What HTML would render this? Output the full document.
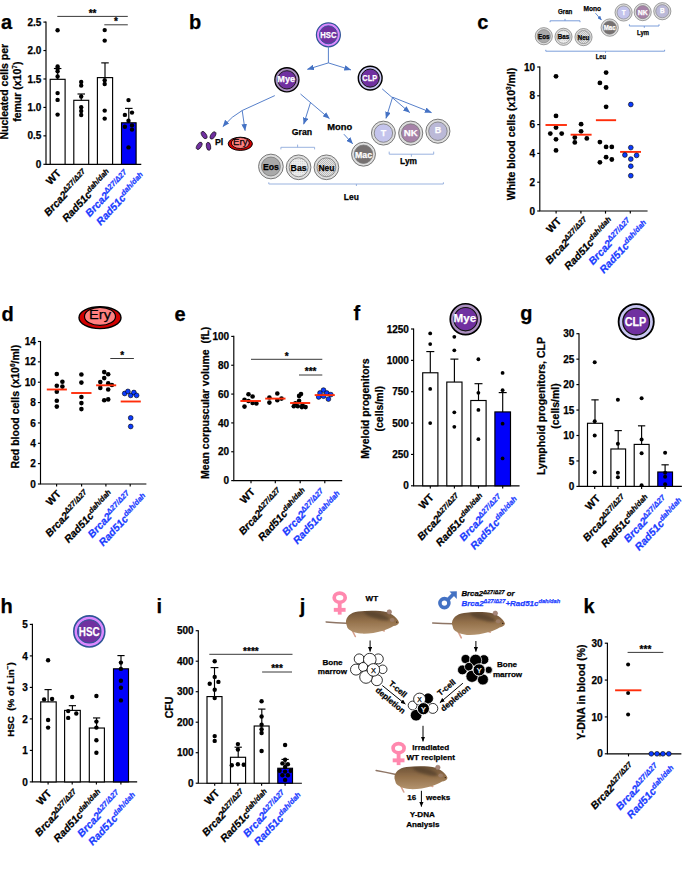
<!DOCTYPE html>
<html><head><meta charset="utf-8"><style>
html,body{margin:0;padding:0;background:#fff;}
svg{display:block;}
text{font-family:"Liberation Sans",sans-serif;stroke-width:0.25px;stroke-linejoin:round;stroke:#000;}
text[fill="#fff"]{stroke:#fff;}
text[fill="#1b3dff"]{stroke:#1b3dff;}
</style></head><body>
<svg width="685" height="870" viewBox="0 0 685 870">
<rect width="685" height="870" fill="#fff"/>
<text x="0.9" y="29" font-size="20" text-anchor="start" font-weight="bold" font-style="normal" fill="#000" >a</text>
<path d="M46,22.1 V164.3 H140.7" fill="none" stroke="#000" stroke-width="1.15" stroke-linecap="square"/>
<line x1="43.4" y1="164.3" x2="46" y2="164.3" stroke="#000" stroke-width="1.15" />
<text x="41.3" y="167.9" font-size="10" text-anchor="end" font-weight="bold" font-style="normal" fill="#000" >0</text>
<line x1="43.4" y1="135.86" x2="46" y2="135.86" stroke="#000" stroke-width="1.15" />
<text x="41.3" y="139.46" font-size="10" text-anchor="end" font-weight="bold" font-style="normal" fill="#000" >0.5</text>
<line x1="43.4" y1="107.42" x2="46" y2="107.42" stroke="#000" stroke-width="1.15" />
<text x="41.3" y="111.02" font-size="10" text-anchor="end" font-weight="bold" font-style="normal" fill="#000" >1.0</text>
<line x1="43.4" y1="78.98" x2="46" y2="78.98" stroke="#000" stroke-width="1.15" />
<text x="41.3" y="82.58" font-size="10" text-anchor="end" font-weight="bold" font-style="normal" fill="#000" >1.5</text>
<line x1="43.4" y1="50.54" x2="46" y2="50.54" stroke="#000" stroke-width="1.15" />
<text x="41.3" y="54.14" font-size="10" text-anchor="end" font-weight="bold" font-style="normal" fill="#000" >2.0</text>
<line x1="43.4" y1="22.1" x2="46" y2="22.1" stroke="#000" stroke-width="1.15" />
<text x="41.3" y="25.7" font-size="10" text-anchor="end" font-weight="bold" font-style="normal" fill="#000" >2.5</text>
<rect x="50.2" y="79.32" width="14.9" height="84.98" fill="#fff" stroke="#000" stroke-width="1.15"/>
<rect x="73.8" y="100.31" width="14.9" height="63.99" fill="#fff" stroke="#000" stroke-width="1.15"/>
<rect x="97.4" y="77.61" width="15.2" height="86.69" fill="#fff" stroke="#000" stroke-width="1.15"/>
<rect x="121.5" y="122.78" width="14.6" height="41.52" fill="#0000fa" stroke="#000" stroke-width="1.15"/>
<line x1="57.65" y1="68.51" x2="57.65" y2="79.32" stroke="#000" stroke-width="1.15" />
<line x1="53.9" y1="68.51" x2="61.4" y2="68.51" stroke="#000" stroke-width="1.15" />
<line x1="81.25" y1="94" x2="81.25" y2="100.31" stroke="#000" stroke-width="1.15" />
<line x1="77.5" y1="94" x2="85" y2="94" stroke="#000" stroke-width="1.15" />
<line x1="105" y1="62.88" x2="105" y2="77.61" stroke="#000" stroke-width="1.15" />
<line x1="101.25" y1="62.88" x2="108.75" y2="62.88" stroke="#000" stroke-width="1.15" />
<line x1="128.8" y1="108.39" x2="128.8" y2="122.78" stroke="#000" stroke-width="1.15" />
<line x1="125.05" y1="108.39" x2="132.55" y2="108.39" stroke="#000" stroke-width="1.15" />
<circle cx="57.6" cy="30.3" r="2.2" fill="#000"/>
<circle cx="57.6" cy="66.5" r="2.2" fill="#000"/>
<circle cx="57.6" cy="68.5" r="2.2" fill="#000"/>
<circle cx="57.6" cy="71.3" r="2.2" fill="#000"/>
<circle cx="57.6" cy="76.5" r="2.2" fill="#000"/>
<circle cx="57.6" cy="93.1" r="2.2" fill="#000"/>
<circle cx="57.6" cy="99.9" r="2.2" fill="#000"/>
<circle cx="57.6" cy="114.6" r="2.2" fill="#000"/>
<circle cx="81.2" cy="82" r="2.2" fill="#000"/>
<circle cx="81.2" cy="85.6" r="2.2" fill="#000"/>
<circle cx="81.2" cy="96.5" r="2.2" fill="#000"/>
<circle cx="81.2" cy="107.3" r="2.2" fill="#000"/>
<circle cx="81.2" cy="111" r="2.2" fill="#000"/>
<circle cx="81.2" cy="115" r="2.2" fill="#000"/>
<circle cx="104.7" cy="30.1" r="2.2" fill="#000"/>
<circle cx="104.7" cy="40.6" r="2.2" fill="#000"/>
<circle cx="104.7" cy="80.2" r="2.2" fill="#000"/>
<circle cx="104.7" cy="84" r="2.2" fill="#000"/>
<circle cx="104.7" cy="110.6" r="2.2" fill="#000"/>
<circle cx="104.7" cy="118.6" r="2.2" fill="#000"/>
<circle cx="128.5" cy="100.1" r="2.2" fill="#000"/>
<circle cx="124.9" cy="114.9" r="2.2" fill="#000"/>
<circle cx="132" cy="112.6" r="2.2" fill="#000"/>
<circle cx="128.5" cy="120.7" r="2.2" fill="#000"/>
<circle cx="124.9" cy="126.8" r="2.2" fill="#000"/>
<circle cx="132" cy="125.4" r="2.2" fill="#000"/>
<circle cx="132" cy="129.6" r="2.2" fill="#000"/>
<circle cx="128.5" cy="147.4" r="2.2" fill="#000"/>
<line x1="57.3" y1="16.4" x2="127.8" y2="16.4" stroke="#222" stroke-width="0.9" />
<text x="92.55" y="16.7" font-size="10" text-anchor="middle" font-weight="bold" font-style="normal" fill="#000" >**</text>
<line x1="104.3" y1="24.8" x2="127.8" y2="24.8" stroke="#222" stroke-width="0.9" />
<text x="116.05" y="25.1" font-size="10" text-anchor="middle" font-weight="bold" font-style="normal" fill="#000" >*</text>
<g transform="translate(61.65,173.5) rotate(-47) scale(1,1.0)"><text x="0" y="0" font-size="10.5" font-weight="bold" font-style="normal" text-anchor="end" fill="#000">WT</text></g>
<g transform="translate(88.25,174) rotate(-47) scale(1,1.0)"><text x="0" y="0" font-size="10.5" font-weight="bold" font-style="italic" text-anchor="end" fill="#000">Brca2<tspan font-size="7.6" font-weight="bold" font-style="italic" dy="-3.5">Δ27/Δ27</tspan></text></g>
<g transform="translate(112,174) rotate(-47) scale(1,1.0)"><text x="0" y="0" font-size="10.5" font-weight="bold" font-style="italic" text-anchor="end" fill="#000">Rad51c<tspan font-size="7.6" font-weight="bold" font-style="italic" dy="-3.5">dah/dah</tspan></text></g>
<g transform="translate(135.8,174) rotate(-47) scale(1,1.0)"><text x="-63.29" y="-3.98" font-size="10.5" font-weight="bold" font-style="italic" text-anchor="start" fill="#1b3dff">Brca2<tspan font-size="7.6" font-weight="bold" font-style="italic" dy="-3.5">Δ27/Δ27</tspan></text></g>
<g transform="translate(135.8,174) rotate(-47) scale(1,1.0)"><text x="-61.89" y="9.72" font-size="10.5" font-weight="bold" font-style="italic" text-anchor="start" fill="#1b3dff">Rad51c<tspan font-size="7.6" font-weight="bold" font-style="italic" dy="-3.5">dah/dah</tspan></text></g>
<text transform="translate(8,91.7) rotate(-90)" x="0" y="0" font-size="10.5" font-weight="bold" text-anchor="middle">Nucleated cells per</text>
<text transform="translate(20.6,91.7) rotate(-90)" x="0" y="0" font-size="10.5" font-weight="bold" text-anchor="middle">femur (x10<tspan font-size="6.5" dy="-4">7</tspan><tspan dy="4">)</tspan></text>
<path d="M539.8,67 V211 H647" fill="none" stroke="#000" stroke-width="1.15" stroke-linecap="square"/>
<line x1="537.2" y1="211" x2="539.8" y2="211" stroke="#000" stroke-width="1.15" />
<text x="535.1" y="214.6" font-size="10" text-anchor="end" font-weight="bold" font-style="normal" fill="#000" >0</text>
<line x1="537.2" y1="182.2" x2="539.8" y2="182.2" stroke="#000" stroke-width="1.15" />
<text x="535.1" y="185.8" font-size="10" text-anchor="end" font-weight="bold" font-style="normal" fill="#000" >2</text>
<line x1="537.2" y1="153.4" x2="539.8" y2="153.4" stroke="#000" stroke-width="1.15" />
<text x="535.1" y="157" font-size="10" text-anchor="end" font-weight="bold" font-style="normal" fill="#000" >4</text>
<line x1="537.2" y1="124.6" x2="539.8" y2="124.6" stroke="#000" stroke-width="1.15" />
<text x="535.1" y="128.2" font-size="10" text-anchor="end" font-weight="bold" font-style="normal" fill="#000" >6</text>
<line x1="537.2" y1="95.8" x2="539.8" y2="95.8" stroke="#000" stroke-width="1.15" />
<text x="535.1" y="99.4" font-size="10" text-anchor="end" font-weight="bold" font-style="normal" fill="#000" >8</text>
<line x1="537.2" y1="67" x2="539.8" y2="67" stroke="#000" stroke-width="1.15" />
<text x="535.1" y="70.6" font-size="10" text-anchor="end" font-weight="bold" font-style="normal" fill="#000" >10</text>
<line x1="556.1" y1="211" x2="556.1" y2="213.6" stroke="#000" stroke-width="1.15" />
<line x1="580.9" y1="211" x2="580.9" y2="213.6" stroke="#000" stroke-width="1.15" />
<line x1="605.5" y1="211" x2="605.5" y2="213.6" stroke="#000" stroke-width="1.15" />
<line x1="630.3" y1="211" x2="630.3" y2="213.6" stroke="#000" stroke-width="1.15" />
<circle cx="556" cy="76.3" r="2.4" fill="#000"/>
<circle cx="556" cy="115.9" r="2.4" fill="#000"/>
<circle cx="556" cy="127.6" r="2.4" fill="#000"/>
<circle cx="550.3" cy="133.6" r="2.4" fill="#000"/>
<circle cx="561.7" cy="133.6" r="2.4" fill="#000"/>
<circle cx="556" cy="139.3" r="2.4" fill="#000"/>
<circle cx="556" cy="150.4" r="2.4" fill="#000"/>
<line x1="545.5" y1="125" x2="566.9" y2="125" stroke="#ff2d0a" stroke-width="1.9" />
<circle cx="581.1" cy="124.2" r="2.4" fill="#000"/>
<circle cx="581.1" cy="131.3" r="2.4" fill="#000"/>
<circle cx="574.8" cy="137.5" r="2.4" fill="#000"/>
<circle cx="586.8" cy="138.4" r="2.4" fill="#000"/>
<circle cx="574.8" cy="142.4" r="2.4" fill="#000"/>
<line x1="570.6" y1="134.7" x2="591.6" y2="134.7" stroke="#ff2d0a" stroke-width="1.9" />
<circle cx="606.1" cy="72.6" r="2.4" fill="#000"/>
<circle cx="599.9" cy="82.9" r="2.4" fill="#000"/>
<circle cx="606.1" cy="87.5" r="2.4" fill="#000"/>
<circle cx="606.1" cy="106.8" r="2.4" fill="#000"/>
<circle cx="599.9" cy="142.1" r="2.4" fill="#000"/>
<circle cx="606.1" cy="146.9" r="2.4" fill="#000"/>
<circle cx="611.8" cy="146.9" r="2.4" fill="#000"/>
<circle cx="599.9" cy="162.3" r="2.4" fill="#000"/>
<circle cx="606.1" cy="157.2" r="2.4" fill="#000"/>
<circle cx="611.8" cy="159.5" r="2.4" fill="#000"/>
<line x1="595.9" y1="120.2" x2="616.1" y2="120.2" stroke="#ff2d0a" stroke-width="1.9" />
<line x1="620.1" y1="151.9" x2="641" y2="151.9" stroke="#ff2d0a" stroke-width="1.9" />
<circle cx="630.8" cy="104.5" r="2.4" fill="#0b3bff" stroke="#000" stroke-width="0.6"/>
<circle cx="630.8" cy="147.6" r="2.4" fill="#0b3bff" stroke="#000" stroke-width="0.6"/>
<circle cx="624.9" cy="155" r="2.4" fill="#0b3bff" stroke="#000" stroke-width="0.6"/>
<circle cx="636.6" cy="155.4" r="2.4" fill="#0b3bff" stroke="#000" stroke-width="0.6"/>
<circle cx="630.8" cy="159.1" r="2.4" fill="#0b3bff" stroke="#000" stroke-width="0.6"/>
<circle cx="630.8" cy="166.2" r="2.4" fill="#0b3bff" stroke="#000" stroke-width="0.6"/>
<circle cx="630.8" cy="175.7" r="2.4" fill="#0b3bff" stroke="#000" stroke-width="0.6"/>
<g transform="translate(561.8,221.5) rotate(-47) scale(1,1.0)"><text x="0" y="0" font-size="10.5" font-weight="bold" font-style="normal" text-anchor="end" fill="#000">WT</text></g>
<g transform="translate(589.6,222) rotate(-47) scale(1,1.0)"><text x="0" y="0" font-size="10.5" font-weight="bold" font-style="italic" text-anchor="end" fill="#000">Brca2<tspan font-size="7.6" font-weight="bold" font-style="italic" dy="-3.5">Δ27/Δ27</tspan></text></g>
<g transform="translate(614.2,222) rotate(-47) scale(1,1.0)"><text x="0" y="0" font-size="10.5" font-weight="bold" font-style="italic" text-anchor="end" fill="#000">Rad51c<tspan font-size="7.6" font-weight="bold" font-style="italic" dy="-3.5">dah/dah</tspan></text></g>
<g transform="translate(639,222) rotate(-47) scale(1,1.0)"><text x="-63.29" y="-3.98" font-size="10.5" font-weight="bold" font-style="italic" text-anchor="start" fill="#1b3dff">Brca2<tspan font-size="7.6" font-weight="bold" font-style="italic" dy="-3.5">Δ27/Δ27</tspan></text></g>
<g transform="translate(639,222) rotate(-47) scale(1,1.0)"><text x="-61.89" y="9.72" font-size="10.5" font-weight="bold" font-style="italic" text-anchor="start" fill="#1b3dff">Rad51c<tspan font-size="7.6" font-weight="bold" font-style="italic" dy="-3.5">dah/dah</tspan></text></g>
<text transform="translate(515.1,134) rotate(-90)" x="0" y="0" font-size="10.5" font-weight="bold" text-anchor="middle">White blood cells (x10<tspan font-size="6.5" dy="-4">3</tspan><tspan dy="4">/ml)</tspan></text>
<text x="1.4" y="321" font-size="20" text-anchor="start" font-weight="bold" font-style="normal" fill="#000" >d</text>
<path d="M40.5,341.5 V484 H145.8" fill="none" stroke="#000" stroke-width="1.15" stroke-linecap="square"/>
<line x1="37.9" y1="484" x2="40.5" y2="484" stroke="#000" stroke-width="1.15" />
<text x="35.8" y="487.6" font-size="10" text-anchor="end" font-weight="bold" font-style="normal" fill="#000" >0</text>
<line x1="37.9" y1="463.64" x2="40.5" y2="463.64" stroke="#000" stroke-width="1.15" />
<text x="35.8" y="467.24" font-size="10" text-anchor="end" font-weight="bold" font-style="normal" fill="#000" >2</text>
<line x1="37.9" y1="443.29" x2="40.5" y2="443.29" stroke="#000" stroke-width="1.15" />
<text x="35.8" y="446.89" font-size="10" text-anchor="end" font-weight="bold" font-style="normal" fill="#000" >4</text>
<line x1="37.9" y1="422.93" x2="40.5" y2="422.93" stroke="#000" stroke-width="1.15" />
<text x="35.8" y="426.53" font-size="10" text-anchor="end" font-weight="bold" font-style="normal" fill="#000" >6</text>
<line x1="37.9" y1="402.57" x2="40.5" y2="402.57" stroke="#000" stroke-width="1.15" />
<text x="35.8" y="406.17" font-size="10" text-anchor="end" font-weight="bold" font-style="normal" fill="#000" >8</text>
<line x1="37.9" y1="382.21" x2="40.5" y2="382.21" stroke="#000" stroke-width="1.15" />
<text x="35.8" y="385.81" font-size="10" text-anchor="end" font-weight="bold" font-style="normal" fill="#000" >10</text>
<line x1="37.9" y1="361.86" x2="40.5" y2="361.86" stroke="#000" stroke-width="1.15" />
<text x="35.8" y="365.46" font-size="10" text-anchor="end" font-weight="bold" font-style="normal" fill="#000" >12</text>
<line x1="37.9" y1="341.5" x2="40.5" y2="341.5" stroke="#000" stroke-width="1.15" />
<text x="35.8" y="345.1" font-size="10" text-anchor="end" font-weight="bold" font-style="normal" fill="#000" >14</text>
<line x1="56.6" y1="484" x2="56.6" y2="486.6" stroke="#000" stroke-width="1.15" />
<line x1="81.6" y1="484" x2="81.6" y2="486.6" stroke="#000" stroke-width="1.15" />
<line x1="105.9" y1="484" x2="105.9" y2="486.6" stroke="#000" stroke-width="1.15" />
<line x1="130.2" y1="484" x2="130.2" y2="486.6" stroke="#000" stroke-width="1.15" />
<circle cx="56.8" cy="374" r="2.3" fill="#000"/>
<circle cx="62.4" cy="381.8" r="2.3" fill="#000"/>
<circle cx="56.8" cy="385.8" r="2.3" fill="#000"/>
<circle cx="62.4" cy="386.6" r="2.3" fill="#000"/>
<circle cx="56.8" cy="391.7" r="2.3" fill="#000"/>
<circle cx="56.8" cy="400.7" r="2.3" fill="#000"/>
<circle cx="56.8" cy="406.6" r="2.3" fill="#000"/>
<line x1="46.8" y1="389.5" x2="66.9" y2="389.5" stroke="#ff2d0a" stroke-width="1.9" />
<circle cx="81.4" cy="374.5" r="2.3" fill="#000"/>
<circle cx="81.4" cy="382.6" r="2.3" fill="#000"/>
<circle cx="81.4" cy="397" r="2.3" fill="#000"/>
<circle cx="81.4" cy="403.1" r="2.3" fill="#000"/>
<circle cx="81.4" cy="409.1" r="2.3" fill="#000"/>
<line x1="71.2" y1="393" x2="91.5" y2="393" stroke="#ff2d0a" stroke-width="1.9" />
<circle cx="104.2" cy="372.1" r="2.3" fill="#000"/>
<circle cx="108.2" cy="374.2" r="2.3" fill="#000"/>
<circle cx="104.2" cy="378.1" r="2.3" fill="#000"/>
<circle cx="100.3" cy="382.1" r="2.3" fill="#000"/>
<circle cx="108.2" cy="383.4" r="2.3" fill="#000"/>
<circle cx="111.9" cy="385" r="2.3" fill="#000"/>
<circle cx="100.3" cy="387.9" r="2.3" fill="#000"/>
<circle cx="108.2" cy="389.5" r="2.3" fill="#000"/>
<circle cx="104.2" cy="400.2" r="2.3" fill="#000"/>
<circle cx="108.2" cy="399.4" r="2.3" fill="#000"/>
<line x1="96.1" y1="385.3" x2="116.2" y2="385.3" stroke="#ff2d0a" stroke-width="1.9" />
<circle cx="124.7" cy="393.5" r="2.4" fill="#0b3bff" stroke="#000" stroke-width="0.6"/>
<circle cx="127.9" cy="391.4" r="2.4" fill="#0b3bff" stroke="#000" stroke-width="0.6"/>
<circle cx="130.7" cy="395.4" r="2.4" fill="#0b3bff" stroke="#000" stroke-width="0.6"/>
<circle cx="133.9" cy="392.5" r="2.4" fill="#0b3bff" stroke="#000" stroke-width="0.6"/>
<circle cx="136.6" cy="395.4" r="2.4" fill="#0b3bff" stroke="#000" stroke-width="0.6"/>
<circle cx="130.7" cy="417.9" r="2.4" fill="#0b3bff" stroke="#000" stroke-width="0.6"/>
<circle cx="130.7" cy="426.5" r="2.4" fill="#0b3bff" stroke="#000" stroke-width="0.6"/>
<line x1="120.7" y1="401.5" x2="140.8" y2="401.5" stroke="#ff2d0a" stroke-width="1.9" />
<line x1="110.3" y1="358.5" x2="133.9" y2="358.5" stroke="#222" stroke-width="0.9" />
<text x="122.1" y="358.8" font-size="10" text-anchor="middle" font-weight="bold" font-style="normal" fill="#000" >*</text>
<g transform="translate(61.7,494.4) rotate(-47) scale(1,1.0)"><text x="0" y="0" font-size="10.5" font-weight="bold" font-style="normal" text-anchor="end" fill="#000">WT</text></g>
<g transform="translate(89.7,494.9) rotate(-47) scale(1,1.0)"><text x="0" y="0" font-size="10.5" font-weight="bold" font-style="italic" text-anchor="end" fill="#000">Brca2<tspan font-size="7.6" font-weight="bold" font-style="italic" dy="-3.5">Δ27/Δ27</tspan></text></g>
<g transform="translate(114,494.9) rotate(-47) scale(1,1.0)"><text x="0" y="0" font-size="10.5" font-weight="bold" font-style="italic" text-anchor="end" fill="#000">Rad51c<tspan font-size="7.6" font-weight="bold" font-style="italic" dy="-3.5">dah/dah</tspan></text></g>
<g transform="translate(138.3,494.9) rotate(-47) scale(1,1.0)"><text x="-63.29" y="-3.98" font-size="10.5" font-weight="bold" font-style="italic" text-anchor="start" fill="#1b3dff">Brca2<tspan font-size="7.6" font-weight="bold" font-style="italic" dy="-3.5">Δ27/Δ27</tspan></text></g>
<g transform="translate(138.3,494.9) rotate(-47) scale(1,1.0)"><text x="-61.89" y="9.72" font-size="10.5" font-weight="bold" font-style="italic" text-anchor="start" fill="#1b3dff">Rad51c<tspan font-size="7.6" font-weight="bold" font-style="italic" dy="-3.5">dah/dah</tspan></text></g>
<text transform="translate(18.6,406.7) rotate(-90)" x="0" y="0" font-size="10.5" font-weight="bold" text-anchor="middle">Red blood cells (x10<tspan font-size="6.5" dy="-4">6</tspan><tspan dy="4">/ml)</tspan></text>
<text x="174.5" y="320.6" font-size="20" text-anchor="start" font-weight="bold" font-style="normal" fill="#000" >e</text>
<path d="M233.8,336.4 V480.6 H341.6" fill="none" stroke="#000" stroke-width="1.15" stroke-linecap="square"/>
<line x1="231.2" y1="480.6" x2="233.8" y2="480.6" stroke="#000" stroke-width="1.15" />
<text x="229.1" y="484.2" font-size="10" text-anchor="end" font-weight="bold" font-style="normal" fill="#000" >0</text>
<line x1="231.2" y1="451.76" x2="233.8" y2="451.76" stroke="#000" stroke-width="1.15" />
<text x="229.1" y="455.36" font-size="10" text-anchor="end" font-weight="bold" font-style="normal" fill="#000" >20</text>
<line x1="231.2" y1="422.92" x2="233.8" y2="422.92" stroke="#000" stroke-width="1.15" />
<text x="229.1" y="426.52" font-size="10" text-anchor="end" font-weight="bold" font-style="normal" fill="#000" >40</text>
<line x1="231.2" y1="394.08" x2="233.8" y2="394.08" stroke="#000" stroke-width="1.15" />
<text x="229.1" y="397.68" font-size="10" text-anchor="end" font-weight="bold" font-style="normal" fill="#000" >60</text>
<line x1="231.2" y1="365.24" x2="233.8" y2="365.24" stroke="#000" stroke-width="1.15" />
<text x="229.1" y="368.84" font-size="10" text-anchor="end" font-weight="bold" font-style="normal" fill="#000" >80</text>
<line x1="231.2" y1="336.4" x2="233.8" y2="336.4" stroke="#000" stroke-width="1.15" />
<text x="229.1" y="340" font-size="10" text-anchor="end" font-weight="bold" font-style="normal" fill="#000" >100</text>
<line x1="251" y1="480.6" x2="251" y2="483.2" stroke="#000" stroke-width="1.15" />
<line x1="275.3" y1="480.6" x2="275.3" y2="483.2" stroke="#000" stroke-width="1.15" />
<line x1="300.2" y1="480.6" x2="300.2" y2="483.2" stroke="#000" stroke-width="1.15" />
<line x1="324.8" y1="480.6" x2="324.8" y2="483.2" stroke="#000" stroke-width="1.15" />
<circle cx="248.5" cy="394.3" r="2.3" fill="#000"/>
<circle cx="252.6" cy="396.5" r="2.3" fill="#000"/>
<circle cx="244.5" cy="399.7" r="2.3" fill="#000"/>
<circle cx="248.5" cy="401" r="2.3" fill="#000"/>
<circle cx="252.6" cy="403" r="2.3" fill="#000"/>
<circle cx="256.4" cy="403.4" r="2.3" fill="#000"/>
<circle cx="244.5" cy="406.6" r="2.3" fill="#000"/>
<line x1="240.4" y1="401" x2="260.9" y2="401" stroke="#ff2d0a" stroke-width="1.9" />
<circle cx="269.4" cy="397.5" r="2.3" fill="#000"/>
<circle cx="277.3" cy="393.5" r="2.3" fill="#000"/>
<circle cx="277.3" cy="400.2" r="2.3" fill="#000"/>
<circle cx="281.5" cy="398.6" r="2.3" fill="#000"/>
<circle cx="269.4" cy="402.6" r="2.3" fill="#000"/>
<line x1="265.2" y1="398.6" x2="285.5" y2="398.6" stroke="#ff2d0a" stroke-width="1.9" />
<circle cx="301" cy="394.1" r="2.3" fill="#000"/>
<circle cx="299.1" cy="395.9" r="2.3" fill="#000"/>
<circle cx="299.1" cy="400.7" r="2.3" fill="#000"/>
<circle cx="295.4" cy="403.4" r="2.3" fill="#000"/>
<circle cx="293.8" cy="406.3" r="2.3" fill="#000"/>
<circle cx="297.8" cy="406.3" r="2.3" fill="#000"/>
<circle cx="301.9" cy="407.1" r="2.3" fill="#000"/>
<circle cx="305.6" cy="407.1" r="2.3" fill="#000"/>
<circle cx="302.5" cy="405" r="2.3" fill="#000"/>
<line x1="290.1" y1="403" x2="310.2" y2="403" stroke="#ff2d0a" stroke-width="1.9" />
<circle cx="323.5" cy="390.1" r="2.4" fill="#0b3bff" stroke="#000" stroke-width="0.6"/>
<circle cx="320" cy="393" r="2.4" fill="#0b3bff" stroke="#000" stroke-width="0.6"/>
<circle cx="326.8" cy="393" r="2.4" fill="#0b3bff" stroke="#000" stroke-width="0.6"/>
<circle cx="330.8" cy="394.6" r="2.4" fill="#0b3bff" stroke="#000" stroke-width="0.6"/>
<circle cx="318.7" cy="397" r="2.4" fill="#0b3bff" stroke="#000" stroke-width="0.6"/>
<circle cx="323.5" cy="396.2" r="2.4" fill="#0b3bff" stroke="#000" stroke-width="0.6"/>
<circle cx="328.4" cy="399.1" r="2.4" fill="#0b3bff" stroke="#000" stroke-width="0.6"/>
<line x1="314.7" y1="395.1" x2="334.8" y2="395.1" stroke="#ff2d0a" stroke-width="1.9" />
<line x1="251" y1="359.3" x2="322.3" y2="359.3" stroke="#222" stroke-width="0.9" />
<text x="286.65" y="359.6" font-size="10" text-anchor="middle" font-weight="bold" font-style="normal" fill="#000" >*</text>
<line x1="299" y1="375" x2="322.3" y2="375" stroke="#222" stroke-width="0.9" />
<text x="310.65" y="375.3" font-size="10" text-anchor="middle" font-weight="bold" font-style="normal" fill="#000" >***</text>
<g transform="translate(255.7,492.3) rotate(-47) scale(1,1.0)"><text x="0" y="0" font-size="10.5" font-weight="bold" font-style="normal" text-anchor="end" fill="#000">WT</text></g>
<g transform="translate(283,492.8) rotate(-47) scale(1,1.0)"><text x="0" y="0" font-size="10.5" font-weight="bold" font-style="italic" text-anchor="end" fill="#000">Brca2<tspan font-size="7.6" font-weight="bold" font-style="italic" dy="-3.5">Δ27/Δ27</tspan></text></g>
<g transform="translate(307.9,492.8) rotate(-47) scale(1,1.0)"><text x="0" y="0" font-size="10.5" font-weight="bold" font-style="italic" text-anchor="end" fill="#000">Rad51c<tspan font-size="7.6" font-weight="bold" font-style="italic" dy="-3.5">dah/dah</tspan></text></g>
<g transform="translate(332.5,492.8) rotate(-47) scale(1,1.0)"><text x="-63.29" y="-3.98" font-size="10.5" font-weight="bold" font-style="italic" text-anchor="start" fill="#1b3dff">Brca2<tspan font-size="7.6" font-weight="bold" font-style="italic" dy="-3.5">Δ27/Δ27</tspan></text></g>
<g transform="translate(332.5,492.8) rotate(-47) scale(1,1.0)"><text x="-61.89" y="9.72" font-size="10.5" font-weight="bold" font-style="italic" text-anchor="start" fill="#1b3dff">Rad51c<tspan font-size="7.6" font-weight="bold" font-style="italic" dy="-3.5">dah/dah</tspan></text></g>
<text transform="translate(208.5,402.8) rotate(-90)" x="0" y="0" font-size="10.5" font-weight="bold" text-anchor="middle">Mean corpuscular volume&#160;&#160;(fL)</text>
<text x="353.5" y="320.4" font-size="20" text-anchor="start" font-weight="bold" font-style="normal" fill="#000" >f</text>
<path d="M413.6,329 V485.8 H519" fill="none" stroke="#000" stroke-width="1.15" stroke-linecap="square"/>
<line x1="411" y1="485.8" x2="413.6" y2="485.8" stroke="#000" stroke-width="1.15" />
<text x="408.9" y="489.4" font-size="10" text-anchor="end" font-weight="bold" font-style="normal" fill="#000" >0</text>
<line x1="411" y1="454.44" x2="413.6" y2="454.44" stroke="#000" stroke-width="1.15" />
<text x="408.9" y="458.04" font-size="10" text-anchor="end" font-weight="bold" font-style="normal" fill="#000" >250</text>
<line x1="411" y1="423.08" x2="413.6" y2="423.08" stroke="#000" stroke-width="1.15" />
<text x="408.9" y="426.68" font-size="10" text-anchor="end" font-weight="bold" font-style="normal" fill="#000" >500</text>
<line x1="411" y1="391.72" x2="413.6" y2="391.72" stroke="#000" stroke-width="1.15" />
<text x="408.9" y="395.32" font-size="10" text-anchor="end" font-weight="bold" font-style="normal" fill="#000" >750</text>
<line x1="411" y1="360.36" x2="413.6" y2="360.36" stroke="#000" stroke-width="1.15" />
<text x="408.9" y="363.96" font-size="10" text-anchor="end" font-weight="bold" font-style="normal" fill="#000" >1000</text>
<line x1="411" y1="329" x2="413.6" y2="329" stroke="#000" stroke-width="1.15" />
<text x="408.9" y="332.6" font-size="10" text-anchor="end" font-weight="bold" font-style="normal" fill="#000" >1250</text>
<line x1="430.3" y1="485.8" x2="430.3" y2="488.4" stroke="#000" stroke-width="1.15" />
<line x1="454.4" y1="485.8" x2="454.4" y2="488.4" stroke="#000" stroke-width="1.15" />
<line x1="478.5" y1="485.8" x2="478.5" y2="488.4" stroke="#000" stroke-width="1.15" />
<line x1="502.7" y1="485.8" x2="502.7" y2="488.4" stroke="#000" stroke-width="1.15" />
<rect x="422.7" y="372.78" width="15.2" height="113.02" fill="#fff" stroke="#000" stroke-width="1.15"/>
<rect x="446.8" y="382.06" width="15.2" height="103.74" fill="#fff" stroke="#000" stroke-width="1.15"/>
<rect x="470.8" y="400.5" width="15.3" height="85.3" fill="#fff" stroke="#000" stroke-width="1.15"/>
<rect x="494.9" y="411.92" width="15.6" height="73.88" fill="#0000fa" stroke="#000" stroke-width="1.15"/>
<line x1="430.3" y1="351.58" x2="430.3" y2="372.78" stroke="#000" stroke-width="1.15" />
<line x1="426.3" y1="351.58" x2="434.3" y2="351.58" stroke="#000" stroke-width="1.15" />
<line x1="454.4" y1="359.11" x2="454.4" y2="382.06" stroke="#000" stroke-width="1.15" />
<line x1="450.4" y1="359.11" x2="458.4" y2="359.11" stroke="#000" stroke-width="1.15" />
<line x1="478.5" y1="383.69" x2="478.5" y2="400.5" stroke="#000" stroke-width="1.15" />
<line x1="474.5" y1="383.69" x2="482.5" y2="383.69" stroke="#000" stroke-width="1.15" />
<line x1="502.7" y1="392.6" x2="502.7" y2="411.92" stroke="#000" stroke-width="1.15" />
<line x1="498.7" y1="392.6" x2="506.7" y2="392.6" stroke="#000" stroke-width="1.15" />
<circle cx="430.2" cy="333.39" r="1.9" fill="#000"/>
<circle cx="430.2" cy="344.05" r="1.9" fill="#000"/>
<circle cx="430.2" cy="388.96" r="1.9" fill="#000"/>
<circle cx="430.2" cy="423.08" r="1.9" fill="#000"/>
<circle cx="454.3" cy="336.78" r="1.9" fill="#000"/>
<circle cx="454.3" cy="350.32" r="1.9" fill="#000"/>
<circle cx="454.3" cy="412.29" r="1.9" fill="#000"/>
<circle cx="454.3" cy="426.84" r="1.9" fill="#000"/>
<circle cx="478.4" cy="359.23" r="1.9" fill="#000"/>
<circle cx="478.4" cy="392.85" r="1.9" fill="#000"/>
<circle cx="478.4" cy="409.91" r="1.9" fill="#000"/>
<circle cx="478.4" cy="439.14" r="1.9" fill="#000"/>
<circle cx="502.6" cy="372.9" r="1.9" fill="#000"/>
<circle cx="502.6" cy="390.21" r="1.9" fill="#000"/>
<circle cx="502.6" cy="423.71" r="1.9" fill="#000"/>
<circle cx="502.6" cy="458.45" r="1.9" fill="#000"/>
<g transform="translate(434.4,497.8) rotate(-47) scale(1,1.0)"><text x="0" y="0" font-size="10.5" font-weight="bold" font-style="normal" text-anchor="end" fill="#000">WT</text></g>
<g transform="translate(461.5,498.3) rotate(-47) scale(1,1.0)"><text x="0" y="0" font-size="10.5" font-weight="bold" font-style="italic" text-anchor="end" fill="#000">Brca2<tspan font-size="7.6" font-weight="bold" font-style="italic" dy="-3.5">Δ27/Δ27</tspan></text></g>
<g transform="translate(485.6,498.3) rotate(-47) scale(1,1.0)"><text x="0" y="0" font-size="10.5" font-weight="bold" font-style="italic" text-anchor="end" fill="#000">Rad51c<tspan font-size="7.6" font-weight="bold" font-style="italic" dy="-3.5">dah/dah</tspan></text></g>
<g transform="translate(509.8,498.3) rotate(-47) scale(1,1.0)"><text x="-63.29" y="-3.98" font-size="10.5" font-weight="bold" font-style="italic" text-anchor="start" fill="#1b3dff">Brca2<tspan font-size="7.6" font-weight="bold" font-style="italic" dy="-3.5">Δ27/Δ27</tspan></text></g>
<g transform="translate(509.8,498.3) rotate(-47) scale(1,1.0)"><text x="-61.89" y="9.72" font-size="10.5" font-weight="bold" font-style="italic" text-anchor="start" fill="#1b3dff">Rad51c<tspan font-size="7.6" font-weight="bold" font-style="italic" dy="-3.5">dah/dah</tspan></text></g>
<text transform="translate(368.7,408.7) rotate(-90)" x="0" y="0" font-size="10.5" font-weight="bold" text-anchor="middle">Myeloid progenitors</text>
<text transform="translate(383.2,408.7) rotate(-90)" x="0" y="0" font-size="10.5" font-weight="bold" text-anchor="middle">(cells/ml)</text>
<text x="520.2" y="320.2" font-size="20" text-anchor="start" font-weight="bold" font-style="normal" fill="#000" >g</text>
<path d="M579,333.7 V486.4 H681.3" fill="none" stroke="#000" stroke-width="1.15" stroke-linecap="square"/>
<line x1="576.4" y1="486.4" x2="579" y2="486.4" stroke="#000" stroke-width="1.15" />
<text x="574.3" y="490" font-size="10" text-anchor="end" font-weight="bold" font-style="normal" fill="#000" >0</text>
<line x1="576.4" y1="460.95" x2="579" y2="460.95" stroke="#000" stroke-width="1.15" />
<text x="574.3" y="464.55" font-size="10" text-anchor="end" font-weight="bold" font-style="normal" fill="#000" >5</text>
<line x1="576.4" y1="435.5" x2="579" y2="435.5" stroke="#000" stroke-width="1.15" />
<text x="574.3" y="439.1" font-size="10" text-anchor="end" font-weight="bold" font-style="normal" fill="#000" >10</text>
<line x1="576.4" y1="410.05" x2="579" y2="410.05" stroke="#000" stroke-width="1.15" />
<text x="574.3" y="413.65" font-size="10" text-anchor="end" font-weight="bold" font-style="normal" fill="#000" >15</text>
<line x1="576.4" y1="384.6" x2="579" y2="384.6" stroke="#000" stroke-width="1.15" />
<text x="574.3" y="388.2" font-size="10" text-anchor="end" font-weight="bold" font-style="normal" fill="#000" >20</text>
<line x1="576.4" y1="359.15" x2="579" y2="359.15" stroke="#000" stroke-width="1.15" />
<text x="574.3" y="362.75" font-size="10" text-anchor="end" font-weight="bold" font-style="normal" fill="#000" >25</text>
<line x1="576.4" y1="333.7" x2="579" y2="333.7" stroke="#000" stroke-width="1.15" />
<text x="574.3" y="337.3" font-size="10" text-anchor="end" font-weight="bold" font-style="normal" fill="#000" >30</text>
<line x1="594.7" y1="486.4" x2="594.7" y2="489" stroke="#000" stroke-width="1.15" />
<line x1="617.9" y1="486.4" x2="617.9" y2="489" stroke="#000" stroke-width="1.15" />
<line x1="641.6" y1="486.4" x2="641.6" y2="489" stroke="#000" stroke-width="1.15" />
<line x1="665.1" y1="486.4" x2="665.1" y2="489" stroke="#000" stroke-width="1.15" />
<rect x="587.5" y="423.28" width="15.1" height="63.12" fill="#fff" stroke="#000" stroke-width="1.15"/>
<rect x="610.9" y="448.99" width="14.7" height="37.41" fill="#fff" stroke="#000" stroke-width="1.15"/>
<rect x="634.2" y="444.41" width="14.9" height="41.99" fill="#fff" stroke="#000" stroke-width="1.15"/>
<rect x="657.8" y="472" width="14.7" height="14.4" fill="#0000fa" stroke="#000" stroke-width="1.15"/>
<line x1="595" y1="399.87" x2="595" y2="423.28" stroke="#000" stroke-width="1.15" />
<line x1="591.35" y1="399.87" x2="598.65" y2="399.87" stroke="#000" stroke-width="1.15" />
<line x1="618.2" y1="430.61" x2="618.2" y2="448.99" stroke="#000" stroke-width="1.15" />
<line x1="614.55" y1="430.61" x2="621.85" y2="430.61" stroke="#000" stroke-width="1.15" />
<line x1="641.6" y1="425.83" x2="641.6" y2="444.41" stroke="#000" stroke-width="1.15" />
<line x1="637.95" y1="425.83" x2="645.25" y2="425.83" stroke="#000" stroke-width="1.15" />
<line x1="665.1" y1="464.82" x2="665.1" y2="472" stroke="#000" stroke-width="1.15" />
<line x1="661.45" y1="464.82" x2="668.75" y2="464.82" stroke="#000" stroke-width="1.15" />
<circle cx="594.7" cy="362.2" r="2" fill="#000"/>
<circle cx="594.7" cy="421.25" r="2" fill="#000"/>
<circle cx="594.7" cy="435.5" r="2" fill="#000"/>
<circle cx="594.7" cy="472.15" r="2" fill="#000"/>
<circle cx="617.9" cy="399.87" r="2" fill="#000"/>
<circle cx="617.9" cy="443.64" r="2" fill="#000"/>
<circle cx="617.9" cy="472.66" r="2" fill="#000"/>
<circle cx="617.9" cy="477.24" r="2" fill="#000"/>
<circle cx="641.6" cy="398.34" r="2" fill="#000"/>
<circle cx="641.6" cy="439.57" r="2" fill="#000"/>
<circle cx="641.6" cy="453.31" r="2" fill="#000"/>
<circle cx="641.6" cy="485.13" r="2" fill="#000"/>
<circle cx="665.1" cy="452.81" r="2" fill="#000"/>
<circle cx="665.1" cy="472.66" r="2" fill="#000"/>
<circle cx="665.1" cy="476.73" r="2" fill="#000"/>
<circle cx="665.1" cy="484.36" r="2" fill="#000"/>
<g transform="translate(600.9,498.9) rotate(-47) scale(1,1.0)"><text x="0" y="0" font-size="10.5" font-weight="bold" font-style="normal" text-anchor="end" fill="#000">WT</text></g>
<g transform="translate(627.1,499.4) rotate(-47) scale(1,1.0)"><text x="0" y="0" font-size="10.5" font-weight="bold" font-style="italic" text-anchor="end" fill="#000">Brca2<tspan font-size="7.6" font-weight="bold" font-style="italic" dy="-3.5">Δ27/Δ27</tspan></text></g>
<g transform="translate(650.8,499.4) rotate(-47) scale(1,1.0)"><text x="0" y="0" font-size="10.5" font-weight="bold" font-style="italic" text-anchor="end" fill="#000">Rad51c<tspan font-size="7.6" font-weight="bold" font-style="italic" dy="-3.5">dah/dah</tspan></text></g>
<g transform="translate(674.3,499.4) rotate(-47) scale(1,1.0)"><text x="-63.29" y="-3.98" font-size="10.5" font-weight="bold" font-style="italic" text-anchor="start" fill="#1b3dff">Brca2<tspan font-size="7.6" font-weight="bold" font-style="italic" dy="-3.5">Δ27/Δ27</tspan></text></g>
<g transform="translate(674.3,499.4) rotate(-47) scale(1,1.0)"><text x="-61.89" y="9.72" font-size="10.5" font-weight="bold" font-style="italic" text-anchor="start" fill="#1b3dff">Rad51c<tspan font-size="7.6" font-weight="bold" font-style="italic" dy="-3.5">dah/dah</tspan></text></g>
<text transform="translate(545.4,406) rotate(-90)" x="0" y="0" font-size="10.5" font-weight="bold" text-anchor="middle">Lymphoid progenitors, CLP</text>
<text transform="translate(559.2,406) rotate(-90)" x="0" y="0" font-size="10.5" font-weight="bold" text-anchor="middle">(cells/ml)</text>
<text x="0.4" y="613.2" font-size="20" text-anchor="start" font-weight="bold" font-style="normal" fill="#000" >h</text>
<path d="M32.4,624.4 V781.9 H136.6" fill="none" stroke="#000" stroke-width="1.15" stroke-linecap="square"/>
<line x1="29.8" y1="781.9" x2="32.4" y2="781.9" stroke="#000" stroke-width="1.15" />
<text x="27.7" y="785.5" font-size="10" text-anchor="end" font-weight="bold" font-style="normal" fill="#000" >0</text>
<line x1="29.8" y1="750.4" x2="32.4" y2="750.4" stroke="#000" stroke-width="1.15" />
<text x="27.7" y="754" font-size="10" text-anchor="end" font-weight="bold" font-style="normal" fill="#000" >1</text>
<line x1="29.8" y1="718.9" x2="32.4" y2="718.9" stroke="#000" stroke-width="1.15" />
<text x="27.7" y="722.5" font-size="10" text-anchor="end" font-weight="bold" font-style="normal" fill="#000" >2</text>
<line x1="29.8" y1="687.4" x2="32.4" y2="687.4" stroke="#000" stroke-width="1.15" />
<text x="27.7" y="691" font-size="10" text-anchor="end" font-weight="bold" font-style="normal" fill="#000" >3</text>
<line x1="29.8" y1="655.9" x2="32.4" y2="655.9" stroke="#000" stroke-width="1.15" />
<text x="27.7" y="659.5" font-size="10" text-anchor="end" font-weight="bold" font-style="normal" fill="#000" >4</text>
<line x1="29.8" y1="624.4" x2="32.4" y2="624.4" stroke="#000" stroke-width="1.15" />
<text x="27.7" y="628" font-size="10" text-anchor="end" font-weight="bold" font-style="normal" fill="#000" >5</text>
<line x1="48.1" y1="781.9" x2="48.1" y2="784.5" stroke="#000" stroke-width="1.15" />
<line x1="72.2" y1="781.9" x2="72.2" y2="784.5" stroke="#000" stroke-width="1.15" />
<line x1="96.4" y1="781.9" x2="96.4" y2="784.5" stroke="#000" stroke-width="1.15" />
<line x1="120.9" y1="781.9" x2="120.9" y2="784.5" stroke="#000" stroke-width="1.15" />
<rect x="40.7" y="701.89" width="15.5" height="80.01" fill="#fff" stroke="#000" stroke-width="1.15"/>
<rect x="64.6" y="710.39" width="15.7" height="71.5" fill="#fff" stroke="#000" stroke-width="1.15"/>
<rect x="89.3" y="728.03" width="15.1" height="53.87" fill="#fff" stroke="#000" stroke-width="1.15"/>
<rect x="113.5" y="668.81" width="15" height="113.09" fill="#0000fa" stroke="#000" stroke-width="1.15"/>
<line x1="48.1" y1="689.61" x2="48.1" y2="701.89" stroke="#000" stroke-width="1.15" />
<line x1="44.5" y1="689.61" x2="51.7" y2="689.61" stroke="#000" stroke-width="1.15" />
<line x1="72.4" y1="705.67" x2="72.4" y2="710.39" stroke="#000" stroke-width="1.15" />
<line x1="68.8" y1="705.67" x2="76" y2="705.67" stroke="#000" stroke-width="1.15" />
<line x1="96.6" y1="717.95" x2="96.6" y2="728.03" stroke="#000" stroke-width="1.15" />
<line x1="93" y1="717.95" x2="100.2" y2="717.95" stroke="#000" stroke-width="1.15" />
<line x1="121" y1="655.59" x2="121" y2="668.81" stroke="#000" stroke-width="1.15" />
<line x1="117.4" y1="655.59" x2="124.6" y2="655.59" stroke="#000" stroke-width="1.15" />
<circle cx="48.1" cy="660.2" r="2.2" fill="#000"/>
<circle cx="44.1" cy="699.4" r="2.2" fill="#000"/>
<circle cx="52.1" cy="699" r="2.2" fill="#000"/>
<circle cx="48.1" cy="720" r="2.2" fill="#000"/>
<circle cx="48.1" cy="727.6" r="2.2" fill="#000"/>
<circle cx="72.2" cy="697" r="2.2" fill="#000"/>
<circle cx="68.2" cy="711.1" r="2.2" fill="#000"/>
<circle cx="76.3" cy="713.5" r="2.2" fill="#000"/>
<circle cx="68.2" cy="717.9" r="2.2" fill="#000"/>
<circle cx="96.4" cy="696" r="2.2" fill="#000"/>
<circle cx="96.4" cy="721.6" r="2.2" fill="#000"/>
<circle cx="96.4" cy="727.6" r="2.2" fill="#000"/>
<circle cx="96.4" cy="740.3" r="2.2" fill="#000"/>
<circle cx="96.4" cy="752.7" r="2.2" fill="#000"/>
<circle cx="120.9" cy="662.6" r="2.2" fill="#000"/>
<circle cx="120.9" cy="668.9" r="2.2" fill="#000"/>
<circle cx="120.9" cy="680.7" r="2.2" fill="#000"/>
<circle cx="120.9" cy="687.8" r="2.2" fill="#000"/>
<circle cx="120.9" cy="700.4" r="2.2" fill="#000"/>
<g transform="translate(52.1,793.7) rotate(-47) scale(1,1.0)"><text x="0" y="0" font-size="10.5" font-weight="bold" font-style="normal" text-anchor="end" fill="#000">WT</text></g>
<g transform="translate(79.2,794.2) rotate(-47) scale(1,1.0)"><text x="0" y="0" font-size="10.5" font-weight="bold" font-style="italic" text-anchor="end" fill="#000">Brca2<tspan font-size="7.6" font-weight="bold" font-style="italic" dy="-3.5">Δ27/Δ27</tspan></text></g>
<g transform="translate(103.4,794.2) rotate(-47) scale(1,1.0)"><text x="0" y="0" font-size="10.5" font-weight="bold" font-style="italic" text-anchor="end" fill="#000">Rad51c<tspan font-size="7.6" font-weight="bold" font-style="italic" dy="-3.5">dah/dah</tspan></text></g>
<g transform="translate(127.9,794.2) rotate(-47) scale(1,1.0)"><text x="-63.29" y="-3.98" font-size="10.5" font-weight="bold" font-style="italic" text-anchor="start" fill="#1b3dff">Brca2<tspan font-size="7.6" font-weight="bold" font-style="italic" dy="-3.5">Δ27/Δ27</tspan></text></g>
<g transform="translate(127.9,794.2) rotate(-47) scale(1,1.0)"><text x="-61.89" y="9.72" font-size="10.5" font-weight="bold" font-style="italic" text-anchor="start" fill="#1b3dff">Rad51c<tspan font-size="7.6" font-weight="bold" font-style="italic" dy="-3.5">dah/dah</tspan></text></g>
<text transform="translate(13.5,699.6) rotate(-90)" x="0" y="0" font-size="9.8" font-weight="bold" text-anchor="middle">HSC&#160;&#160;(% of Lin<tspan font-size="6.5" dy="-4">−</tspan><tspan dy="4">)</tspan></text>
<text x="156.6" y="613.2" font-size="20" text-anchor="start" font-weight="bold" font-style="normal" fill="#000" >i</text>
<path d="M198.3,630.7 V783.2 H301.3" fill="none" stroke="#000" stroke-width="1.15" stroke-linecap="square"/>
<line x1="195.7" y1="783.2" x2="198.3" y2="783.2" stroke="#000" stroke-width="1.15" />
<text x="193.6" y="786.8" font-size="10" text-anchor="end" font-weight="bold" font-style="normal" fill="#000" >0</text>
<line x1="195.7" y1="752.7" x2="198.3" y2="752.7" stroke="#000" stroke-width="1.15" />
<text x="193.6" y="756.3" font-size="10" text-anchor="end" font-weight="bold" font-style="normal" fill="#000" >100</text>
<line x1="195.7" y1="722.2" x2="198.3" y2="722.2" stroke="#000" stroke-width="1.15" />
<text x="193.6" y="725.8" font-size="10" text-anchor="end" font-weight="bold" font-style="normal" fill="#000" >200</text>
<line x1="195.7" y1="691.7" x2="198.3" y2="691.7" stroke="#000" stroke-width="1.15" />
<text x="193.6" y="695.3" font-size="10" text-anchor="end" font-weight="bold" font-style="normal" fill="#000" >300</text>
<line x1="195.7" y1="661.2" x2="198.3" y2="661.2" stroke="#000" stroke-width="1.15" />
<text x="193.6" y="664.8" font-size="10" text-anchor="end" font-weight="bold" font-style="normal" fill="#000" >400</text>
<line x1="195.7" y1="630.7" x2="198.3" y2="630.7" stroke="#000" stroke-width="1.15" />
<text x="193.6" y="634.3" font-size="10" text-anchor="end" font-weight="bold" font-style="normal" fill="#000" >500</text>
<line x1="214.7" y1="783.2" x2="214.7" y2="785.8" stroke="#000" stroke-width="1.15" />
<line x1="237.9" y1="783.2" x2="237.9" y2="785.8" stroke="#000" stroke-width="1.15" />
<line x1="261.6" y1="783.2" x2="261.6" y2="785.8" stroke="#000" stroke-width="1.15" />
<line x1="285.1" y1="783.2" x2="285.1" y2="785.8" stroke="#000" stroke-width="1.15" />
<rect x="207" y="696.58" width="15" height="86.62" fill="#fff" stroke="#000" stroke-width="1.15"/>
<rect x="230.5" y="757.28" width="15.1" height="25.92" fill="#fff" stroke="#000" stroke-width="1.15"/>
<rect x="254.2" y="726.01" width="14.9" height="57.19" fill="#fff" stroke="#000" stroke-width="1.15"/>
<rect x="277.8" y="768.25" width="14.7" height="14.95" fill="#0000fa" stroke="#000" stroke-width="1.15"/>
<line x1="214.5" y1="667.61" x2="214.5" y2="696.58" stroke="#000" stroke-width="1.15" />
<line x1="210.6" y1="667.61" x2="218.4" y2="667.61" stroke="#000" stroke-width="1.15" />
<line x1="238.2" y1="747.21" x2="238.2" y2="757.28" stroke="#000" stroke-width="1.15" />
<line x1="234.55" y1="747.21" x2="241.85" y2="747.21" stroke="#000" stroke-width="1.15" />
<line x1="261.8" y1="709.09" x2="261.8" y2="726.01" stroke="#000" stroke-width="1.15" />
<line x1="258.15" y1="709.09" x2="265.45" y2="709.09" stroke="#000" stroke-width="1.15" />
<line x1="285.1" y1="759.41" x2="285.1" y2="768.25" stroke="#000" stroke-width="1.15" />
<line x1="281.45" y1="759.41" x2="288.75" y2="759.41" stroke="#000" stroke-width="1.15" />
<circle cx="214.7" cy="661.3" r="2.2" fill="#000"/>
<circle cx="214.7" cy="676.9" r="2.2" fill="#000"/>
<circle cx="209.7" cy="683.7" r="2.2" fill="#000"/>
<circle cx="218.4" cy="681.9" r="2.2" fill="#000"/>
<circle cx="214.7" cy="689.8" r="2.2" fill="#000"/>
<circle cx="214.7" cy="698.1" r="2.2" fill="#000"/>
<circle cx="214.7" cy="736.1" r="2.2" fill="#000"/>
<circle cx="214.7" cy="740.9" r="2.2" fill="#000"/>
<circle cx="237.9" cy="744.1" r="2.2" fill="#000"/>
<circle cx="237.9" cy="749.6" r="2.2" fill="#000"/>
<circle cx="231.8" cy="765.2" r="2.2" fill="#000"/>
<circle cx="237.9" cy="764.3" r="2.2" fill="#000"/>
<circle cx="243.7" cy="764.8" r="2.2" fill="#000"/>
<circle cx="261.6" cy="701.2" r="2.2" fill="#000"/>
<circle cx="261.6" cy="716.5" r="2.2" fill="#000"/>
<circle cx="261.6" cy="724.7" r="2.2" fill="#000"/>
<circle cx="261.6" cy="729.3" r="2.2" fill="#000"/>
<circle cx="261.6" cy="733" r="2.2" fill="#000"/>
<circle cx="261.6" cy="751" r="2.2" fill="#000"/>
<circle cx="285.1" cy="745" r="2.2" fill="#000"/>
<circle cx="285.1" cy="759.7" r="2.2" fill="#000"/>
<circle cx="282.4" cy="763.4" r="2.2" fill="#000"/>
<circle cx="287.9" cy="764.3" r="2.2" fill="#000"/>
<circle cx="285.1" cy="767" r="2.2" fill="#000"/>
<circle cx="279.6" cy="770.7" r="2.2" fill="#000"/>
<circle cx="290.7" cy="770.7" r="2.2" fill="#000"/>
<circle cx="285.1" cy="771.6" r="2.2" fill="#000"/>
<circle cx="282.4" cy="775.3" r="2.2" fill="#000"/>
<circle cx="287.9" cy="775.3" r="2.2" fill="#000"/>
<circle cx="285.1" cy="779.9" r="2.2" fill="#000"/>
<line x1="209.3" y1="654.3" x2="292.5" y2="654.3" stroke="#222" stroke-width="0.9" />
<text x="250.9" y="654.6" font-size="10" text-anchor="middle" font-weight="bold" font-style="normal" fill="#000" >****</text>
<line x1="262.1" y1="672" x2="292" y2="672" stroke="#222" stroke-width="0.9" />
<text x="277.05" y="672.3" font-size="10" text-anchor="middle" font-weight="bold" font-style="normal" fill="#000" >***</text>
<g transform="translate(220.1,793.6) rotate(-47) scale(1,1.0)"><text x="0" y="0" font-size="10.5" font-weight="bold" font-style="normal" text-anchor="end" fill="#000">WT</text></g>
<g transform="translate(246.3,794.1) rotate(-47) scale(1,1.0)"><text x="0" y="0" font-size="10.5" font-weight="bold" font-style="italic" text-anchor="end" fill="#000">Brca2<tspan font-size="7.6" font-weight="bold" font-style="italic" dy="-3.5">Δ27/Δ27</tspan></text></g>
<g transform="translate(270,794.1) rotate(-47) scale(1,1.0)"><text x="0" y="0" font-size="10.5" font-weight="bold" font-style="italic" text-anchor="end" fill="#000">Rad51c<tspan font-size="7.6" font-weight="bold" font-style="italic" dy="-3.5">dah/dah</tspan></text></g>
<g transform="translate(293.5,794.1) rotate(-47) scale(1,1.0)"><text x="-63.29" y="-3.98" font-size="10.5" font-weight="bold" font-style="italic" text-anchor="start" fill="#1b3dff">Brca2<tspan font-size="7.6" font-weight="bold" font-style="italic" dy="-3.5">Δ27/Δ27</tspan></text></g>
<g transform="translate(293.5,794.1) rotate(-47) scale(1,1.0)"><text x="-61.89" y="9.72" font-size="10.5" font-weight="bold" font-style="italic" text-anchor="start" fill="#1b3dff">Rad51c<tspan font-size="7.6" font-weight="bold" font-style="italic" dy="-3.5">dah/dah</tspan></text></g>
<text transform="translate(173,707.5) rotate(-90)" x="0" y="0" font-size="10.5" font-weight="bold" text-anchor="middle">CFU</text>
<text x="583.4" y="613.2" font-size="20" text-anchor="start" font-weight="bold" font-style="normal" fill="#000" >k</text>
<path d="M607.4,643.2 V753.8 H680.8" fill="none" stroke="#000" stroke-width="1.15" stroke-linecap="square"/>
<line x1="604.8" y1="753.8" x2="607.4" y2="753.8" stroke="#000" stroke-width="1.15" />
<text x="602.7" y="757.4" font-size="10" text-anchor="end" font-weight="bold" font-style="normal" fill="#000" >0</text>
<line x1="604.8" y1="716.93" x2="607.4" y2="716.93" stroke="#000" stroke-width="1.15" />
<text x="602.7" y="720.53" font-size="10" text-anchor="end" font-weight="bold" font-style="normal" fill="#000" >10</text>
<line x1="604.8" y1="680.07" x2="607.4" y2="680.07" stroke="#000" stroke-width="1.15" />
<text x="602.7" y="683.67" font-size="10" text-anchor="end" font-weight="bold" font-style="normal" fill="#000" >20</text>
<line x1="604.8" y1="643.2" x2="607.4" y2="643.2" stroke="#000" stroke-width="1.15" />
<text x="602.7" y="646.8" font-size="10" text-anchor="end" font-weight="bold" font-style="normal" fill="#000" >30</text>
<line x1="628.5" y1="753.8" x2="628.5" y2="756.4" stroke="#000" stroke-width="1.15" />
<line x1="660" y1="753.8" x2="660" y2="756.4" stroke="#000" stroke-width="1.15" />
<circle cx="628.1" cy="664.4" r="2" fill="#000"/>
<circle cx="628.1" cy="692.9" r="2" fill="#000"/>
<circle cx="628.1" cy="714.6" r="2" fill="#000"/>
<line x1="615.1" y1="690.3" x2="641.4" y2="690.3" stroke="#ff2d0a" stroke-width="1.9" />
<circle cx="651.3" cy="753.8" r="2.4" fill="#0b3bff" stroke="#000" stroke-width="0.6"/>
<circle cx="657" cy="753.8" r="2.4" fill="#0b3bff" stroke="#000" stroke-width="0.6"/>
<circle cx="662.9" cy="753.8" r="2.4" fill="#0b3bff" stroke="#000" stroke-width="0.6"/>
<circle cx="668.8" cy="753.8" r="2.4" fill="#0b3bff" stroke="#000" stroke-width="0.6"/>
<line x1="627.6" y1="652.4" x2="663.3" y2="652.4" stroke="#222" stroke-width="0.9" />
<text x="645.45" y="652.7" font-size="10" text-anchor="middle" font-weight="bold" font-style="normal" fill="#000" >***</text>
<g transform="translate(634.9,767.25) rotate(-47) scale(1,1.0)"><text x="0" y="0" font-size="10.5" font-weight="bold" font-style="italic" text-anchor="end" fill="#000">Brca2<tspan font-size="7.6" font-weight="bold" font-style="italic" dy="-3.5">Δ27/Δ27</tspan></text></g>
<g transform="translate(666.4,767.25) rotate(-47) scale(1,1.0)"><text x="-63.29" y="-3.98" font-size="10.5" font-weight="bold" font-style="italic" text-anchor="start" fill="#1b3dff">Brca2<tspan font-size="7.6" font-weight="bold" font-style="italic" dy="-3.5">Δ27/Δ27</tspan></text></g>
<g transform="translate(666.4,767.25) rotate(-47) scale(1,1.0)"><text x="-61.89" y="9.72" font-size="10.5" font-weight="bold" font-style="italic" text-anchor="start" fill="#1b3dff">Rad51c<tspan font-size="7.6" font-weight="bold" font-style="italic" dy="-3.5">dah/dah</tspan></text></g>
<text transform="translate(584.9,692.1) rotate(-90)" x="0" y="0" font-size="10.5" font-weight="bold" text-anchor="middle">Y-DNA in blood (%)</text>
<defs><marker id="ah" markerWidth="7" markerHeight="5.6" refX="6.6" refY="2.8" orient="auto" markerUnits="userSpaceOnUse"><path d="M0,0 L7,2.8 L0,5.6 z" fill="#4472c4"/></marker><marker id="ahs" markerWidth="4.5" markerHeight="3.8" refX="4.2" refY="1.9" orient="auto" markerUnits="userSpaceOnUse"><path d="M0,0 L4.5,1.9 L0,3.8 z" fill="#4472c4"/></marker><pattern id="dotp" width="2.2" height="2.2" patternUnits="userSpaceOnUse"><rect width="2.2" height="2.2" fill="#ececec"/><circle cx="1.1" cy="1.1" r="0.45" fill="#b8b8b8"/></pattern><pattern id="chk" width="2" height="2" patternUnits="userSpaceOnUse"><rect width="2" height="2" fill="#e4e4e4"/><rect width="1" height="1" fill="#bdbdbd"/><rect x="1" y="1" width="1" height="1" fill="#bdbdbd"/></pattern></defs>
<text x="189" y="28.9" font-size="20" text-anchor="start" font-weight="bold" font-style="normal" fill="#000" >b</text>
<path d="M328.4,47.3 L328.4,62.9" fill="none" stroke="#4472c4" stroke-width="0.9"/>
<path d="M328.4,62.9 L307.4,69.3" fill="none" stroke="#4472c4" stroke-width="0.9" marker-end="url(#ah)"/>
<path d="M328.4,62.9 L350.9,69.9" fill="none" stroke="#4472c4" stroke-width="0.9" marker-end="url(#ah)"/>
<path d="M274.8,95.6 L242.2,110.5" fill="none" stroke="#4472c4" stroke-width="0.9"/>
<path d="M242.2,110.5 Q232,116 222.9,126.6" fill="none" stroke="#4472c4" stroke-width="0.9" marker-end="url(#ah)"/>
<path d="M242.2,110.5 L245.1,130.6" fill="none" stroke="#4472c4" stroke-width="0.9" marker-end="url(#ah)"/>
<path d="M300.5,94 L329.4,118.6" fill="none" stroke="#4472c4" stroke-width="0.9" marker-end="url(#ah)"/>
<path d="M310.5,102.5 L303.7,124.2" fill="none" stroke="#4472c4" stroke-width="0.9" marker-end="url(#ah)"/>
<path d="M382.2,88.9 L409.7,112.6" fill="none" stroke="#4472c4" stroke-width="0.9" marker-end="url(#ah)"/>
<path d="M392.6,97.2 L386,118.3" fill="none" stroke="#4472c4" stroke-width="0.9" marker-end="url(#ah)"/>
<path d="M392.6,97.2 L431.5,112.6" fill="none" stroke="#4472c4" stroke-width="0.9" marker-end="url(#ah)"/>
<path d="M343.9,134.2 L352.7,143.8" fill="none" stroke="#4472c4" stroke-width="0.9" marker-end="url(#ah)"/>
<circle cx="328.4" cy="34.8" r="11.97" fill="#dd88ff" stroke="#2f5597" stroke-width="1.25"/>
<circle cx="328.4" cy="34.8" r="9.01" fill="#7030a0" stroke="#2f5597" stroke-width="0.9"/>
<text x="328.4" y="38.08" font-size="9.198" font-weight="bold" text-anchor="middle" fill="#fff" textLength="16.13" lengthAdjust="spacingAndGlyphs">HSC</text>
<circle cx="286.9" cy="79.8" r="12.05" fill="#ab8fc0" stroke="#000" stroke-width="1.3"/>
<circle cx="286.9" cy="79.8" r="9.14" fill="#7030a0" stroke="#111" stroke-width="0.9"/>
<text x="286.26" y="82.34" font-size="9.017" font-weight="bold" text-anchor="middle" fill="#fff" textLength="17.78" lengthAdjust="spacingAndGlyphs">Mye</text>
<circle cx="370.2" cy="78.1" r="11.9" fill="#c8c6f2" stroke="#000" stroke-width="1.4"/>
<circle cx="370.2" cy="78.1" r="9.07" fill="#7030a0" stroke="#111" stroke-width="1.0"/>
<text x="369.7" y="81.12" font-size="8.946" font-weight="bold" text-anchor="middle" fill="#fff" textLength="14.74" lengthAdjust="spacingAndGlyphs">CLP</text>
<ellipse cx="204.1" cy="135.1" rx="4.1" ry="2.2" transform="rotate(58,204.1,135.1)" fill="#7030a0" stroke="#000" stroke-width="0.6"/>
<ellipse cx="213" cy="135.4" rx="4.1" ry="2.2" transform="rotate(-58,213,135.4)" fill="#7030a0" stroke="#000" stroke-width="0.6"/>
<ellipse cx="199.2" cy="145.8" rx="4.1" ry="2.2" transform="rotate(-58,199.2,145.8)" fill="#7030a0" stroke="#000" stroke-width="0.6"/>
<ellipse cx="208.5" cy="146.3" rx="4.1" ry="2.2" transform="rotate(80,208.5,146.3)" fill="#7030a0" stroke="#000" stroke-width="0.6"/>
<text x="214.9" y="144.6" font-size="8.8" text-anchor="start" font-weight="bold" font-style="normal" fill="#000" >Pl</text>
<ellipse cx="240.3" cy="143.8" rx="12.11" ry="6.61" fill="#d00000" stroke="#000" stroke-width="0.98"/>
<ellipse cx="240.3" cy="143.02" rx="9.01" ry="5.5" fill="#ff8080" stroke="#000" stroke-width="0.84"/>
<text x="240.3" y="144.51" font-size="9.4" font-weight="normal" text-anchor="middle" fill="#000" textLength="14.4" lengthAdjust="spacingAndGlyphs">Ery</text>
<text x="291.7" y="135.4" font-size="8.8" text-anchor="start" font-weight="bold" font-style="normal" fill="#000" textLength="20.4" lengthAdjust="spacingAndGlyphs">Gran</text>
<text x="327.3" y="130.1" font-size="8.8" text-anchor="start" font-weight="bold" font-style="normal" fill="#000" textLength="24.9" lengthAdjust="spacingAndGlyphs">Mono</text>
<circle cx="363.5" cy="154.2" r="11.95" fill="#dedede" stroke="#6a6a6a" stroke-width="0.9"/>
<circle cx="363.5" cy="154.2" r="9.18" fill="#767171" stroke="#777" stroke-width="0.8"/>
<text x="363.5" y="157.55" font-size="8.927999999999999" font-weight="bold" text-anchor="middle" fill="#fff" textLength="17" lengthAdjust="spacingAndGlyphs">Mac</text>
<circle cx="383.4" cy="133.1" r="11.95" fill="#dedede" stroke="#6a6a6a" stroke-width="0.9"/>
<circle cx="383.4" cy="133.1" r="9.18" fill="#c4c4ec" stroke="#777" stroke-width="0.8"/>
<text x="383.4" y="136.45" font-size="8.927999999999999" font-weight="bold" text-anchor="middle" fill="#fff">T</text>
<circle cx="410.7" cy="133.1" r="12.05" fill="#dedede" stroke="#6a6a6a" stroke-width="0.9"/>
<circle cx="410.7" cy="133.1" r="9.25" fill="#a682a8" stroke="#777" stroke-width="0.8"/>
<text x="410.7" y="136.47" font-size="9.0" font-weight="bold" text-anchor="middle" fill="#fff" textLength="14" lengthAdjust="spacingAndGlyphs">NK</text>
<circle cx="437.9" cy="131.2" r="12.05" fill="#dedede" stroke="#6a6a6a" stroke-width="0.9"/>
<circle cx="437.9" cy="131.2" r="9.25" fill="#bbb9d7" stroke="#777" stroke-width="0.8"/>
<text x="437.9" y="133.07" font-size="9.0" font-weight="bold" text-anchor="middle" fill="#fff">B</text>
<path d="M389.2,151.6 L389.2,154.2 L433.7,154.2 L433.7,151.6" fill="none" stroke="#8eaadb" stroke-width="0.9"/>
<path d="M411.4,154.2 L411.4,156.7" fill="none" stroke="#8eaadb" stroke-width="0.9"/>
<text x="400.1" y="163.5" font-size="8.8" text-anchor="start" font-weight="bold" font-style="normal" fill="#000" textLength="16.9" lengthAdjust="spacingAndGlyphs">Lym</text>
<path d="M280.9,149.4 L280.9,147.3 L314.6,147.3 L314.6,149.4" fill="none" stroke="#8eaadb" stroke-width="0.9"/>
<path d="M297.6,147.3 L297.6,144.6" fill="none" stroke="#8eaadb" stroke-width="0.9"/>
<circle cx="270.9" cy="166.5" r="12.35" fill="#dedede" stroke="#6a6a6a" stroke-width="0.9"/>
<circle cx="270.9" cy="166.5" r="9.47" fill="#a9a9a9" stroke="#777" stroke-width="0.8"/>
<text x="270.9" y="169.96" font-size="9.216" font-weight="bold" text-anchor="middle" fill="#000" textLength="16" lengthAdjust="spacingAndGlyphs">Eos</text>
<circle cx="298.6" cy="167.3" r="12.35" fill="#dedede" stroke="#6a6a6a" stroke-width="0.9"/>
<circle cx="298.6" cy="167.3" r="9.47" fill="url(#dotp)" stroke="#777" stroke-width="0.8"/>
<text x="298.6" y="170.76" font-size="9.216" font-weight="bold" text-anchor="middle" fill="#000" textLength="16" lengthAdjust="spacingAndGlyphs">Bas</text>
<circle cx="326.4" cy="167.3" r="12.35" fill="#dedede" stroke="#6a6a6a" stroke-width="0.9"/>
<circle cx="326.4" cy="167.3" r="9.47" fill="url(#chk)" stroke="#777" stroke-width="0.8"/>
<text x="326.4" y="170.76" font-size="9.216" font-weight="bold" text-anchor="middle" fill="#000" textLength="16" lengthAdjust="spacingAndGlyphs">Neu</text>
<path d="M268.8,182.3 L268.8,184 L443.4,184 L443.4,182.3" fill="none" stroke="#8eaadb" stroke-width="0.9"/>
<path d="M356.4,184 L356.4,186" fill="none" stroke="#8eaadb" stroke-width="0.9"/>
<text x="343.8" y="199.8" font-size="8.8" text-anchor="start" font-weight="bold" font-style="normal" fill="#000" textLength="15" lengthAdjust="spacingAndGlyphs">Leu</text>
<ellipse cx="100" cy="317.7" rx="21" ry="10.9" fill="#d00000" stroke="#000" stroke-width="1.4"/>
<ellipse cx="100" cy="316.42" rx="15.52" ry="8.99" fill="#ff8080" stroke="#000" stroke-width="1.2"/>
<text x="100" y="318.86" font-size="12.3" font-weight="normal" text-anchor="middle" fill="#000" textLength="21.9" lengthAdjust="spacingAndGlyphs">Ery</text>
<circle cx="465.6" cy="319.2" r="15.39" fill="#ab8fc0" stroke="#000" stroke-width="1.625"/>
<circle cx="465.6" cy="319.2" r="11.66" fill="#7030a0" stroke="#111" stroke-width="1.125"/>
<text x="464.79" y="322.44" font-size="11.501999999999999" font-weight="bold" text-anchor="middle" fill="#fff" textLength="22.68" lengthAdjust="spacingAndGlyphs">Mye</text>
<circle cx="636.2" cy="321.7" r="17.59" fill="#c8c6f2" stroke="#000" stroke-width="1.8199999999999998"/>
<circle cx="636.2" cy="321.7" r="13.32" fill="#7030a0" stroke="#111" stroke-width="1.3"/>
<text x="635.46" y="326.14" font-size="13.135" font-weight="bold" text-anchor="middle" fill="#fff" textLength="21.64" lengthAdjust="spacingAndGlyphs">CLP</text>
<circle cx="89.3" cy="631.4" r="15.52" fill="#dd88ff" stroke="#2f5597" stroke-width="1.5625"/>
<circle cx="89.3" cy="631.4" r="11.65" fill="#7030a0" stroke="#2f5597" stroke-width="1.125"/>
<text x="89.3" y="635.64" font-size="11.899000000000001" font-weight="bold" text-anchor="middle" fill="#fff" textLength="20.86" lengthAdjust="spacingAndGlyphs">HSC</text>
<text x="477.2" y="29.3" font-size="20" text-anchor="start" font-weight="bold" font-style="normal" fill="#000" >c</text>
<text x="558" y="14" font-size="6.8" text-anchor="start" font-weight="bold" font-style="normal" fill="#000" textLength="14.3" lengthAdjust="spacingAndGlyphs">Gran</text>
<path d="M550.1,22.2 L550.1,20.8 L580,20.8 L580,22.2" fill="none" stroke="#6d93d6" stroke-width="0.9"/>
<path d="M565,20.8 L565,18.9" fill="none" stroke="#6d93d6" stroke-width="0.9"/>
<text x="583.4" y="10.5" font-size="6.8" text-anchor="start" font-weight="bold" font-style="normal" fill="#000" textLength="17.6" lengthAdjust="spacingAndGlyphs">Mono</text>
<path d="M595.4,13.1 L601.5,20.1" fill="none" stroke="#4472c4" stroke-width="0.8" marker-end="url(#ahs)"/>
<circle cx="543.8" cy="36.2" r="8.59" fill="#dedede" stroke="#6a6a6a" stroke-width="0.63"/>
<circle cx="543.8" cy="36.2" r="6.59" fill="#a9a9a9" stroke="#777" stroke-width="0.5599999999999999"/>
<text x="543.8" y="38.6" font-size="6.408" font-weight="bold" text-anchor="middle" fill="#000" textLength="11.5" lengthAdjust="spacingAndGlyphs">Eos</text>
<circle cx="563.5" cy="36.8" r="8.59" fill="#dedede" stroke="#6a6a6a" stroke-width="0.63"/>
<circle cx="563.5" cy="36.8" r="6.59" fill="url(#dotp)" stroke="#777" stroke-width="0.5599999999999999"/>
<text x="563.5" y="39.2" font-size="6.408" font-weight="bold" text-anchor="middle" fill="#000" textLength="11.5" lengthAdjust="spacingAndGlyphs">Bas</text>
<circle cx="583.5" cy="37.1" r="8.59" fill="#dedede" stroke="#6a6a6a" stroke-width="0.63"/>
<circle cx="583.5" cy="37.1" r="6.59" fill="url(#chk)" stroke="#777" stroke-width="0.5599999999999999"/>
<text x="583.5" y="39.5" font-size="6.408" font-weight="bold" text-anchor="middle" fill="#000" textLength="11.5" lengthAdjust="spacingAndGlyphs">Neu</text>
<circle cx="609.7" cy="27.6" r="8.69" fill="#dedede" stroke="#6a6a6a" stroke-width="0.63"/>
<circle cx="609.7" cy="27.6" r="6.66" fill="#767171" stroke="#777" stroke-width="0.5599999999999999"/>
<text x="609.7" y="30.03" font-size="6.4799999999999995" font-weight="bold" text-anchor="middle" fill="#fff" textLength="12" lengthAdjust="spacingAndGlyphs">Mac</text>
<circle cx="623.6" cy="12.5" r="8.59" fill="#dedede" stroke="#6a6a6a" stroke-width="0.63"/>
<circle cx="623.6" cy="12.5" r="6.59" fill="#c4c4ec" stroke="#777" stroke-width="0.5599999999999999"/>
<text x="623.6" y="14.9" font-size="6.408" font-weight="bold" text-anchor="middle" fill="#fff">T</text>
<circle cx="642.7" cy="12.1" r="8.59" fill="#dedede" stroke="#6a6a6a" stroke-width="0.63"/>
<circle cx="642.7" cy="12.1" r="6.59" fill="#a682a8" stroke="#777" stroke-width="0.5599999999999999"/>
<text x="642.7" y="14.5" font-size="6.408" font-weight="bold" text-anchor="middle" fill="#fff" textLength="10" lengthAdjust="spacingAndGlyphs">NK</text>
<circle cx="662.3" cy="11.2" r="8.59" fill="#dedede" stroke="#6a6a6a" stroke-width="0.63"/>
<circle cx="662.3" cy="11.2" r="6.59" fill="#bbb9d7" stroke="#777" stroke-width="0.5599999999999999"/>
<text x="662.3" y="12.54" font-size="6.408" font-weight="bold" text-anchor="middle" fill="#fff">B</text>
<path d="M629.4,24.3 L629.4,26 L659,26 L659,24.3" fill="none" stroke="#6d93d6" stroke-width="0.9"/>
<path d="M644.3,26 L644.3,27.8" fill="none" stroke="#6d93d6" stroke-width="0.9"/>
<text x="637" y="35.2" font-size="6.8" text-anchor="start" font-weight="bold" font-style="normal" fill="#000" textLength="11.9" lengthAdjust="spacingAndGlyphs">Lym</text>
<path d="M545.8,49.8 L545.8,51.2 L664.6,51.2 L664.6,49.8" fill="none" stroke="#6d93d6" stroke-width="0.9"/>
<path d="M605.5,51.2 L605.5,52.8" fill="none" stroke="#6d93d6" stroke-width="0.9"/>
<text x="595.7" y="58.7" font-size="6.8" text-anchor="start" font-weight="bold" font-style="normal" fill="#000" textLength="10.5" lengthAdjust="spacingAndGlyphs">Leu</text>
<text x="299.8" y="612.7" font-size="20" text-anchor="start" font-weight="bold" font-style="normal" fill="#000" >j</text>
<ellipse cx="339.7" cy="597.7" rx="5.5" ry="4.6" fill="none" stroke="#ff88ae" stroke-width="3.7"/>
<rect x="337.8" y="603.2" width="3.8" height="11.4" fill="#ff88ae"/>
<rect x="333.8" y="607.9" width="11.8" height="3.9" fill="#ff88ae"/>
<ellipse cx="398.6" cy="748.2" rx="5.5" ry="4.6" fill="none" stroke="#ff88ae" stroke-width="3.7"/>
<rect x="396.7" y="753.7" width="3.8" height="11.4" fill="#ff88ae"/>
<rect x="392.7" y="758.4" width="11.8" height="3.9" fill="#ff88ae"/>
<circle cx="444.4" cy="603.1" r="4.5" fill="none" stroke="#4472c4" stroke-width="3.6"/>
<path d="M447.6,599.9 L453.5,594" stroke="#4472c4" stroke-width="3.6" fill="none"/>
<path d="M449.5,591.6 L456.8,591.3 L456.8,598.9 Z" fill="#4472c4"/>
<text x="365.5" y="601.4" font-size="8.1" text-anchor="start" font-weight="bold" font-style="normal" fill="#000" >WT</text>
<text x="461.4" y="596.2" font-size="7.6" font-weight="bold" font-style="italic" textLength="53.3" lengthAdjust="spacingAndGlyphs">Brca2<tspan font-size="5.4" dy="-2.6">Δ27/Δ27</tspan><tspan dy="2.6"> or</tspan></text>
<text x="461.4" y="605.9" font-size="7.6" font-weight="bold" font-style="italic" fill="#1b3dff" textLength="98.8" lengthAdjust="spacingAndGlyphs">Brca2<tspan font-size="5.4" dy="-2.6">Δ27/Δ27</tspan><tspan dy="2.6">+Rad51c</tspan><tspan font-size="5.4" dy="-2.6">dah/dah</tspan></text>
<defs><linearGradient id="mg" x1="0" y1="0" x2="0" y2="1">
<stop offset="0" stop-color="#6c5136"/><stop offset="0.45" stop-color="#93704a"/><stop offset="1" stop-color="#b4946f"/></linearGradient>
<filter id="mb" x="-20%" y="-50%" width="140%" height="200%"><feGaussianBlur stdDeviation="1.2"/></filter>
<clipPath id="mclip"><path d="M346,623 C345.5,617 350.5,612.6 358,611.6 C365,610.6 373,610.4 380,611 C385.5,611.5 389.5,612.8 392.3,614.8 C395.6,617 398.4,620 399,622.4 C398.4,624.6 396,625.8 393.6,626.1 C390.3,628.1 386.2,630 382,631 C376,632.8 368,634 361,633.6 C354,633 349.2,630.5 347.4,627.8 Z"/></clipPath>
<filter id="mb2" x="-20%" y="-50%" width="140%" height="200%"><feGaussianBlur stdDeviation="0.35"/></filter>
</defs>
<path d="M346.5,623.2 Q336,622.6 326.1,621.9" stroke="#8e7565" stroke-width="1.5" fill="none" stroke-linecap="round"/>
<path d="M453,623.8 Q443,623.6 432.7,623.1" stroke="#8e7565" stroke-width="1.5" fill="none" stroke-linecap="round"/>
<path d="M396,774.6 Q386,772.2 376.1,770.5" stroke="#8e7565" stroke-width="1.5" fill="none" stroke-linecap="round"/>
<g>
<path d="M351.5,629 L355.3,636.5" stroke="#d7a08e" stroke-width="1.6" stroke-linecap="round"/>
<path d="M381,629.5 L384.3,631" stroke="#d7a08e" stroke-width="1.5" stroke-linecap="round"/>
<g filter="url(#mb2)">
<path d="M346,623 C345.5,617 350.5,612.6 358,611.6 C365,610.6 373,610.4 380,611 C385.5,611.5 389.5,612.8 392.3,614.8 C395.6,617 398.4,620 399,622.4 C398.4,624.6 396,625.8 393.6,626.1 C390.3,628.1 386.2,630 382,631 C376,632.8 368,634 361,633.6 C354,633 349.2,630.5 347.4,627.8 Z" fill="url(#mg)"/>
</g>
<g clip-path="url(#mclip)"><ellipse cx="377" cy="615.8" rx="13" ry="3" transform="rotate(16,377,615.8)" fill="#4a3826" opacity="0.6" filter="url(#mb)"/></g>
<circle cx="389.3" cy="612" r="2.3" fill="#a7877a" stroke="#8d6d5c" stroke-width="0.5"/>
<ellipse cx="392.2" cy="620" rx="2.4" ry="2.1" fill="#9c7c66"/>
<circle cx="396.8" cy="622.1" r="0.7" fill="#2a1a10"/>
</g>
<g transform="translate(106,1.3)">
<path d="M351.5,629 L355.3,636.5" stroke="#d7a08e" stroke-width="1.6" stroke-linecap="round"/>
<path d="M381,629.5 L384.3,631" stroke="#d7a08e" stroke-width="1.5" stroke-linecap="round"/>
<g filter="url(#mb2)">
<path d="M346,623 C345.5,617 350.5,612.6 358,611.6 C365,610.6 373,610.4 380,611 C385.5,611.5 389.5,612.8 392.3,614.8 C395.6,617 398.4,620 399,622.4 C398.4,624.6 396,625.8 393.6,626.1 C390.3,628.1 386.2,630 382,631 C376,632.8 368,634 361,633.6 C354,633 349.2,630.5 347.4,627.8 Z" fill="url(#mg)"/>
</g>
<g clip-path="url(#mclip)"><ellipse cx="377" cy="615.8" rx="13" ry="3" transform="rotate(16,377,615.8)" fill="#4a3826" opacity="0.6" filter="url(#mb)"/></g>
<circle cx="389.3" cy="612" r="2.3" fill="#a7877a" stroke="#8d6d5c" stroke-width="0.5"/>
<ellipse cx="392.2" cy="620" rx="2.4" ry="2.1" fill="#9c7c66"/>
<circle cx="396.8" cy="622.1" r="0.7" fill="#2a1a10"/>
</g>
<g transform="translate(48.5,155.5)">
<path d="M351.5,629 L355.3,636.5" stroke="#d7a08e" stroke-width="1.6" stroke-linecap="round"/>
<path d="M381,629.5 L384.3,631" stroke="#d7a08e" stroke-width="1.5" stroke-linecap="round"/>
<g filter="url(#mb2)">
<path d="M346,623 C345.5,617 350.5,612.6 358,611.6 C365,610.6 373,610.4 380,611 C385.5,611.5 389.5,612.8 392.3,614.8 C395.6,617 398.4,620 399,622.4 C398.4,624.6 396,625.8 393.6,626.1 C390.3,628.1 386.2,630 382,631 C376,632.8 368,634 361,633.6 C354,633 349.2,630.5 347.4,627.8 Z" fill="url(#mg)"/>
</g>
<g clip-path="url(#mclip)"><ellipse cx="377" cy="615.8" rx="13" ry="3" transform="rotate(16,377,615.8)" fill="#4a3826" opacity="0.6" filter="url(#mb)"/></g>
<circle cx="389.3" cy="612" r="2.3" fill="#a7877a" stroke="#8d6d5c" stroke-width="0.5"/>
<ellipse cx="392.2" cy="620" rx="2.4" ry="2.1" fill="#9c7c66"/>
<circle cx="396.8" cy="622.1" r="0.7" fill="#2a1a10"/>
</g>
<defs><marker id="bk" markerWidth="5" markerHeight="4.4" refX="4.8" refY="2.2" orient="auto" markerUnits="userSpaceOnUse"><path d="M0,0 L5,2.2 L0,4.4 z" fill="#000"/></marker></defs>
<path d="M370.1,640.5 L370.1,651.6" stroke="#000" stroke-width="1.0" marker-end="url(#bk)"/>
<path d="M475.9,641 L475.9,651.6" stroke="#000" stroke-width="1.0" marker-end="url(#bk)"/>
<path d="M382.3,685.5 L405.4,704.2" stroke="#000" stroke-width="1.0" marker-end="url(#bk)"/>
<path d="M462.9,683.2 L439.9,702.7" stroke="#000" stroke-width="1.0" marker-end="url(#bk)"/>
<path d="M423,725.8 L423,741.4" stroke="#000" stroke-width="1.0" marker-end="url(#bk)"/>
<path d="M421.4,790.8 L421.4,806.6" stroke="#000" stroke-width="1.0" marker-end="url(#bk)"/>
<circle cx="359.2" cy="658.9" r="5" fill="#fff" stroke="#000" stroke-width="0.8"/>
<circle cx="378.3" cy="658.9" r="5" fill="#fff" stroke="#000" stroke-width="0.8"/>
<circle cx="369.8" cy="659.6" r="6.3" fill="#fff" stroke="#000" stroke-width="0.8"/>
<circle cx="356" cy="669.6" r="5.5" fill="#fff" stroke="#000" stroke-width="0.8"/>
<circle cx="363.1" cy="667" r="4.5" fill="#fff" stroke="#000" stroke-width="0.8"/>
<circle cx="382.7" cy="669.3" r="4.3" fill="#fff" stroke="#000" stroke-width="0.8"/>
<circle cx="376.9" cy="680.2" r="5.5" fill="#fff" stroke="#000" stroke-width="0.8"/>
<circle cx="366" cy="677" r="6.3" fill="#fff" stroke="#000" stroke-width="0.8"/>
<circle cx="373.4" cy="669.9" r="6.3" fill="#fff" stroke="#000" stroke-width="0.8"/>
<text x="373.4" y="672.7" font-size="7.4" text-anchor="middle" font-weight="normal" font-style="normal" fill="#000" >X</text>
<circle cx="465.6" cy="659" r="4.6" fill="#000" stroke="#fff" stroke-width="0.7"/>
<circle cx="483.9" cy="659.6" r="4.9" fill="#000" stroke="#fff" stroke-width="0.7"/>
<circle cx="475.6" cy="660.3" r="6.1" fill="#000" stroke="#fff" stroke-width="0.7"/>
<circle cx="462.4" cy="669.9" r="4.9" fill="#000" stroke="#fff" stroke-width="0.7"/>
<circle cx="468.8" cy="666.7" r="4.3" fill="#000" stroke="#fff" stroke-width="0.7"/>
<circle cx="488.7" cy="669.9" r="3.7" fill="#000" stroke="#fff" stroke-width="0.7"/>
<circle cx="482.9" cy="679.5" r="5.5" fill="#000" stroke="#fff" stroke-width="0.7"/>
<circle cx="472" cy="676.3" r="6.1" fill="#000" stroke="#fff" stroke-width="0.7"/>
<circle cx="479.1" cy="669.9" r="6.1" fill="#000" stroke="#fff" stroke-width="0.9"/>
<text x="479.1" y="672.7" font-size="7.4" text-anchor="middle" font-weight="normal" font-style="normal" fill="#fff" >Y</text>
<circle cx="412.6" cy="705.5" r="4.4" fill="#fff" stroke="#000" stroke-width="0.8"/>
<circle cx="428.1" cy="698.5" r="4.7" fill="#000" stroke="#000" stroke-width="0.8"/>
<circle cx="432.8" cy="708.4" r="5" fill="#fff" stroke="#000" stroke-width="0.8"/>
<circle cx="416.1" cy="715.2" r="5.8" fill="#000" stroke="#fff" stroke-width="0.7"/>
<circle cx="419.6" cy="699.1" r="6" fill="#fff" stroke="#000" stroke-width="0.8"/>
<text x="419.6" y="701.7" font-size="6.8" text-anchor="middle" font-weight="normal" font-style="normal" fill="#000" >X</text>
<circle cx="423.4" cy="708.7" r="6.1" fill="#000" stroke="#fff" stroke-width="0.9"/>
<text x="423.4" y="711.5" font-size="7.2" text-anchor="middle" font-weight="normal" font-style="normal" fill="#fff" >Y</text>
<text x="322.4" y="664.6" font-size="8.1" text-anchor="start" font-weight="bold" font-style="normal" fill="#000" >Bone</text>
<text x="317.8" y="673.9" font-size="8.1" text-anchor="start" font-weight="bold" font-style="normal" fill="#000" >marrow</text>
<text x="496.9" y="667.4" font-size="8.1" text-anchor="start" font-weight="bold" font-style="normal" fill="#000" >Bone</text>
<text x="492.9" y="676.8" font-size="8.1" text-anchor="start" font-weight="bold" font-style="normal" fill="#000" >marrow</text>
<text transform="translate(396.1,691.2) rotate(40)" font-size="8.1" font-weight="bold" text-anchor="middle">T-cell</text>
<text transform="translate(388.7,702.6) rotate(40)" font-size="8.1" font-weight="bold" text-anchor="middle">depletion</text>
<text transform="translate(448.2,689.6) rotate(-40)" font-size="8.1" font-weight="bold" text-anchor="middle">T-cell</text>
<text transform="translate(457.3,700.2) rotate(-40)" font-size="8.1" font-weight="bold" text-anchor="middle">depletion</text>
<text x="412.3" y="749.8" font-size="8.1" text-anchor="start" font-weight="bold" font-style="normal" fill="#000" >irradiated</text>
<text x="406.4" y="760.1" font-size="8.1" text-anchor="start" font-weight="bold" font-style="normal" fill="#000" >WT recipient</text>
<text x="407.2" y="800.3" font-size="8.1" text-anchor="start" font-weight="bold" font-style="normal" fill="#000" >16</text>
<text x="425.9" y="800.3" font-size="8.1" text-anchor="start" font-weight="bold" font-style="normal" fill="#000" >weeks</text>
<text x="409.7" y="817.1" font-size="8.1" text-anchor="start" font-weight="bold" font-style="normal" fill="#000" >Y-DNA</text>
<text x="406.2" y="826.6" font-size="8.1" text-anchor="start" font-weight="bold" font-style="normal" fill="#000" >Analysis</text>
</svg></body></html>
